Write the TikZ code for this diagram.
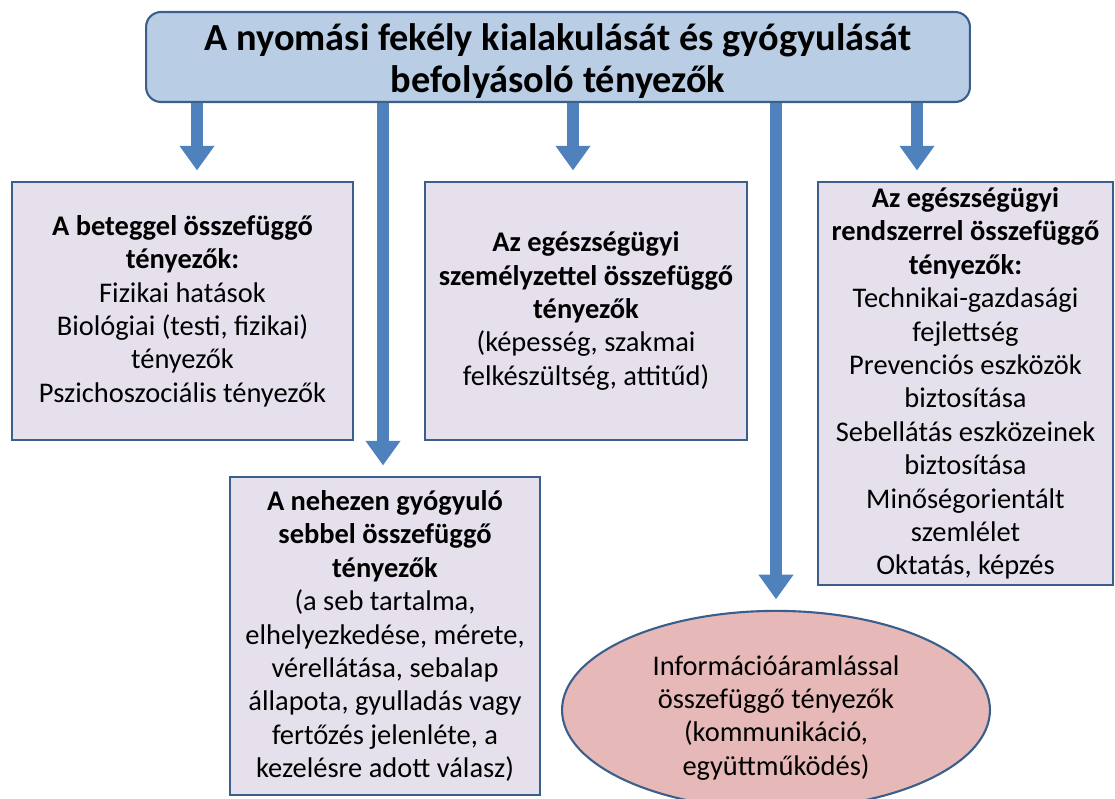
\documentclass[tikz,border=0pt]{standalone}
\usepackage{fontspec}
\setmainfont{Carlito}
\usetikzlibrary{arrows.meta,shapes.geometric}
\definecolor{titlefill}{HTML}{B9CDE5}
\definecolor{boxfill}{HTML}{E6E0EC}
\definecolor{ovalfill}{HTML}{E6B9B8}
\definecolor{edgeblue}{HTML}{3A5F8B}
\definecolor{arrowblue}{HTML}{4F81BD}

\begin{document}
\begin{tikzpicture}[
    x=0.02cm,y=-0.02cm,
    node font=\fontsize{16.2}{19}\selectfont,
    box/.style={draw=edgeblue,line width=1.2pt,fill=boxfill,align=center,inner sep=1pt},
    headbox/.style={draw=edgeblue,line width=1.2pt,fill=titlefill,rounded corners=8.5pt,align=center,
        inner ysep=0pt,minimum width=16.48cm,minimum height=1.8cm,font=\fontsize{21.8}{23.8}\selectfont\bfseries},
    oval/.style={ellipse,draw=edgeblue,line width=1.2pt,fill=ovalfill,align=center,inner sep=0pt,
        minimum width=8.56cm,minimum height=3.4cm},
    arr/.style={-{Triangle[width=19pt,length=14pt]},line width=6.5pt,draw=arrowblue,shorten >=6pt}
]
\useasboundingbox (0,0) rectangle (1115,798);
\node[headbox] (title) at (558,57) {\rule{0pt}{20pt}A nyomási fekély kialakulását és gyógyulását\\befolyásoló tényezők};
\node[box,minimum width=6.82cm,minimum height=5.16cm] (beteg) at (182.5,311)
    {\textbf{A beteggel összefüggő}\\\textbf{tényezők:}\\Fizikai hatások\\Biológiai (testi, fizikai)\\tényezők\\Pszichoszociális tényezők};
\node[box,minimum width=6.44cm,minimum height=5.16cm] (szemely) at (586,311)
    {\textbf{Az egészségügyi}\\\textbf{személyzettel összefüggő}\\\textbf{tényezők}\\(képesség, szakmai\\felkészültség, attitűd)};
\node[box,minimum width=5.9cm,minimum height=8.06cm] (rendszer) at (965.5,383.5)
    {\textbf{Az egészségügyi}\\\textbf{rendszerrel összefüggő}\\\textbf{tényezők:}\\Technikai-gazdasági\\fejlettség\\Prevenciós eszközök\\biztosítása\\Sebellátás eszközeinek\\biztosítása\\Minőségorientált\\szemlélet\\Oktatás, képzés};
\node[box,minimum width=6.2cm,minimum height=6.36cm] (seb) at (385,636)
    {\textbf{A nehezen gyógyuló}\\\textbf{sebbel összefüggő}\\\textbf{tényezők}\\(a seb tartalma,\\elhelyezkedése, mérete,\\vérellátása, sebalap\\állapota, gyulladás vagy\\fertőzés jelenléte, a\\kezelésre adott válasz)};
\node[oval] (info) at (776,710)
    {\rule{0pt}{20pt}Információáramlással\\összefüggő tényezők\\(kommunikáció,\\együttműködés)};
\coordinate (c1) at (197,0);
\coordinate (c2) at (383,0);
\coordinate (c3) at (573,0);
\coordinate (c4) at (776,0);
\coordinate (c5) at (917,0);
\draw[arr] (title.south -| c1) -- (beteg.north -| c1);
\draw[arr] (title.south -| c2) -- (seb.north -| c2);
\draw[arr] (title.south -| c3) -- (szemely.north -| c3);
\draw[arr] (title.south -| c4) -- (info.north -| c4);
\draw[arr] (title.south -| c5) -- (rendszer.north -| c5);
\end{tikzpicture}
\end{document}
